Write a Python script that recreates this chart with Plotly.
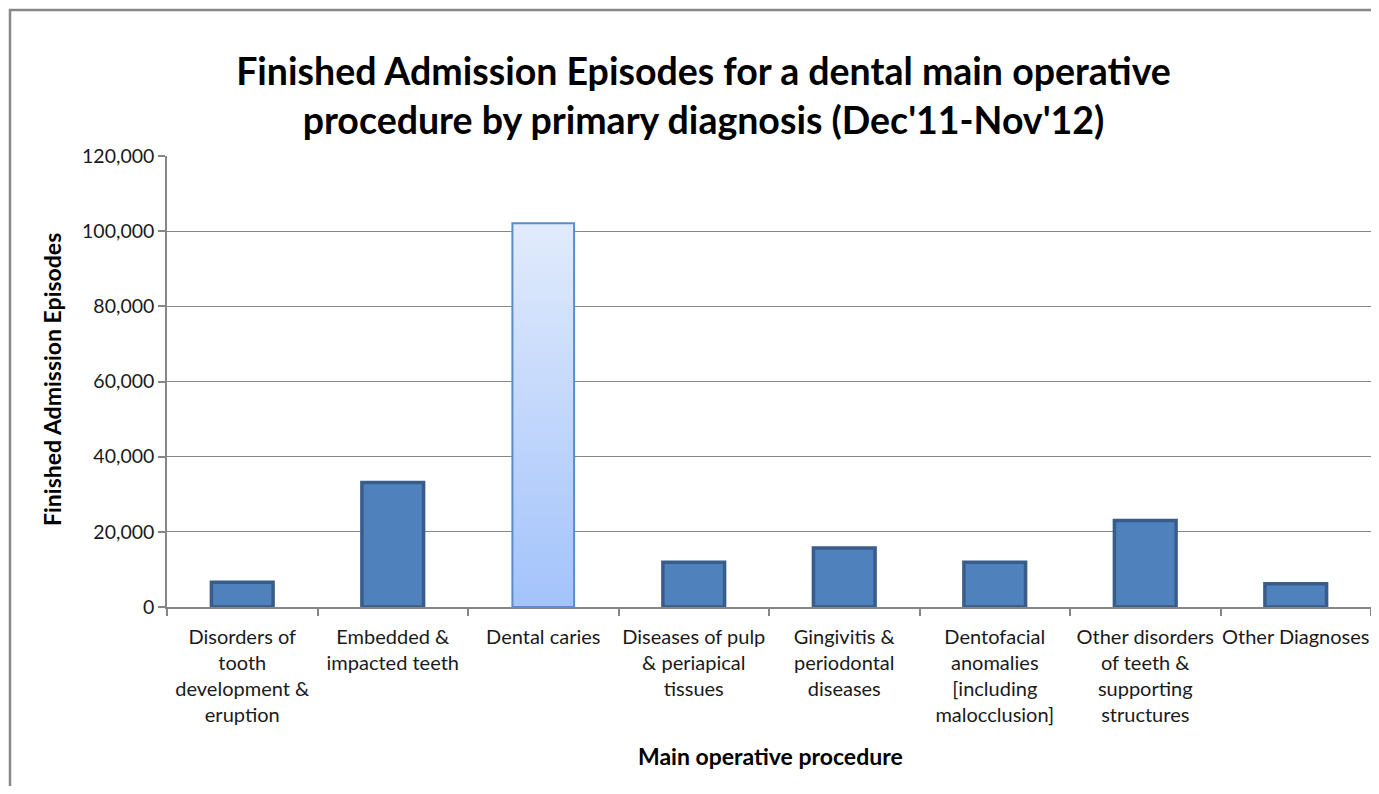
import plotly.graph_objects as go

categories = [
    "Disorders of<br>tooth<br>development &<br>eruption",
    "Embedded &<br>impacted teeth",
    "Dental caries",
    "Diseases of pulp<br>& periapical<br>tissues",
    "Gingivitis &<br>periodontal<br>diseases",
    "Dentofacial<br>anomalies<br>[including<br>malocclusion]",
    "Other disorders<br>of teeth &<br>supporting<br>structures",
    "Other Diagnoses",
]
episodes = [6600, 33100, 102100, 11900, 15700, 11900, 23000, 6200]
highlight = "Dental caries"

title_text = "Finished Admission Episodes for a dental main operative<br>procedure by primary diagnosis (Dec'11-Nov'12)"
y_title = "Finished Admission Episodes"
x_title = "Main operative procedure"

FONT = "Lato, Carlito, Calibri, 'Open Sans', sans-serif"
BAR_W = 0.41
GRID = "#868686"

# figure geometry (page body has an 8px margin)
FIG_W, FIG_H = 1363, 778
L, T, B = 159, 148, 599
PW, PH = FIG_W - L, B - T


def px_x(x):
    return (x - L) / PW


def px_y(y):
    return (B - y) / PH


xpos = list(range(len(categories)))
is_hl = [c == highlight for c in categories]

fig = go.Figure()
fig.add_trace(go.Bar(
    x=xpos, y=episodes, width=BAR_W,
    marker=dict(
        color=["rgba(0,0,0,0)" if h else "#4F81BD" for h in is_hl],
        line=dict(color=["rgba(0,0,0,0)" if h else "#385D8A" for h in is_hl],
                  width=3.5),
    ),
    hoverinfo="skip", showlegend=False,
))

# gradient-filled highlighted bar
for i, (v, h) in enumerate(zip(episodes, is_hl)):
    if not h:
        continue
    x0, x1 = i - BAR_W / 2, i + BAR_W / 2
    fig.add_trace(go.Scatter(
        x=[x0, x1, x1, x0, x0], y=[0, 0, v, v, 0],
        mode="lines", fill="toself",
        fillgradient=dict(type="vertical",
                          colorscale=[[0, "#A3C3FB"], [1, "#E1EBFC"]]),
        line=dict(color="#5A8BCF", width=2),
        hoverinfo="skip", showlegend=False,
    ))

fig.update_layout(
    width=FIG_W, height=FIG_H,
    margin=dict(l=L, r=0, t=T, b=FIG_H - B),
    paper_bgcolor="white", plot_bgcolor="white",
    font=dict(family=FONT, color="#1a1a1a"),
    title=dict(text=title_text, x=695.5 / FIG_W, xanchor="center",
               y=1 - 77 / FIG_H, yanchor="middle", yref="container",
               font=dict(family=FONT, size=37.5, color="#000", weight="bold")),
)

fig.update_xaxes(
    range=[-0.5, len(categories) - 0.5],
    tickmode="array", tickvals=xpos, ticktext=categories,
    ticks="", ticklen=0,
    showline=True, linecolor=GRID, linewidth=1.5,
    showgrid=False, zeroline=False,
    tickfont=dict(family=FONT, size=20, color="#1a1a1a"),
    ticklabelstandoff=11,
    minor=dict(tickmode="linear", tick0=-0.5, dtick=1, ticks="outside",
               ticklen=7, tickcolor=GRID, tickwidth=1.5, showgrid=False),
)
fig.update_yaxes(
    range=[0, 120000], dtick=20000, tickformat=",",
    showline=True, linecolor=GRID, linewidth=1.5,
    showgrid=True, gridcolor=GRID, gridwidth=1,
    zeroline=False,
    ticks="outside", ticklen=7, tickcolor=GRID, tickwidth=1.5,
    tickfont=dict(family=FONT, size=19.5, color="#1a1a1a"),
)

fig.add_annotation(text=y_title, textangle=-90, showarrow=False,
                   xref="paper", yref="paper",
                   x=px_x(44), y=px_y(372),
                   xanchor="center", yanchor="middle",
                   font=dict(family=FONT, size=23, color="#000", weight="bold"))
fig.add_annotation(text=x_title, showarrow=False,
                   xref="paper", yref="paper",
                   x=px_x(762), y=px_y(748),
                   xanchor="center", yanchor="middle",
                   font=dict(family=FONT, size=23, color="#000", weight="bold"))

# outer chart border: only the top and left edges are visible in the frame
border = dict(color="#888888", width=2.5)
fig.add_shape(type="line", xref="paper", yref="paper",
              x0=px_x(1), x1=px_x(FIG_W), y0=px_y(2), y1=px_y(2),
              line=border, layer="below")
fig.add_shape(type="line", xref="paper", yref="paper",
              x0=px_x(2), x1=px_x(2), y0=px_y(1), y1=px_y(FIG_H),
              line=border, layer="below")

fig.write_html("out.html")
